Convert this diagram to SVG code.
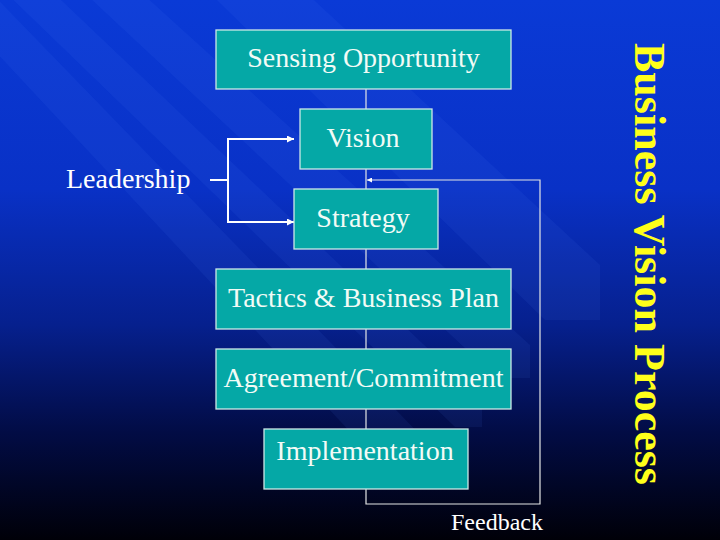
<svg xmlns="http://www.w3.org/2000/svg" width="720" height="540" viewBox="0 0 720 540">
<defs>
<linearGradient id="bg" x1="0" y1="0" x2="0" y2="1">
<stop offset="0" stop-color="#0a3ad6"/>
<stop offset="0.35" stop-color="#0931c6"/>
<stop offset="0.6" stop-color="#06208e"/>
<stop offset="0.8" stop-color="#020c45"/>
<stop offset="1" stop-color="#000008"/>
</linearGradient>
<marker id="arr" viewBox="0 0 10 10" refX="10" refY="5" markerWidth="8" markerHeight="7" markerUnits="userSpaceOnUse" orient="auto">
<path d="M0,0 L10,5 L0,10 z" fill="#ffffff"/>
</marker>
<marker id="arrs" viewBox="0 0 10 10" refX="10" refY="5" markerWidth="5" markerHeight="5" markerUnits="userSpaceOnUse" orient="auto">
<path d="M0,0 L10,5 L0,10 z" fill="#ffffff"/>
</marker>
</defs>
<style>
.box{fill:#05a8a6;stroke:#cde9e6;stroke-width:1.3}
.bt{font-family:"Liberation Serif","Times New Roman",serif;font-size:28px;fill:#f2fbf6;text-anchor:middle}
.lbl{font-family:"Liberation Serif","Times New Roman",serif;fill:#ffffff}
.ln{fill:none;stroke:#e4e6e6;stroke-width:1.2}
.wl{fill:none;stroke:#ffffff;stroke-width:2}
.band{fill:#5a88ff;opacity:0.08}
</style>
<rect x="0" y="0" width="720" height="540" fill="url(#bg)"/>
<g id="background-bands">
<polygon class="band" points="-10,-300 600,265 600,320 545,320 -60,-270"/>
<polygon class="band" points="-60,-190 530,345 530,378 497,378 -90,-170"/>
<polygon class="band" points="-60,-115 482,400 482,427 455,427 -90,-100"/>
<polygon class="band" points="-60,-60 430,445 430,480 395,480 -90,-40"/>
</g>
<g id="connectors">
<line class="ln" x1="366" y1="89" x2="366" y2="109"/>
<line class="ln" x1="366" y1="169" x2="366" y2="189"/>
<line class="ln" x1="366" y1="249" x2="366" y2="269"/>
<line class="ln" x1="366" y1="329" x2="366" y2="349"/>
<line class="ln" x1="366" y1="409" x2="366" y2="429"/>
<polyline class="ln" points="366,489 366,504 540,504 540,180 367,180" marker-end="url(#arrs)"/>
<line class="wl" x1="210" y1="180" x2="228" y2="180"/>
<polyline class="wl" points="294,139 228,139 228,222 294,222" fill="none"/>
<line class="wl" x1="286" y1="139" x2="294" y2="139" marker-end="url(#arr)"/>
<line class="wl" x1="286" y1="222" x2="294" y2="222" marker-end="url(#arr)"/>
</g>
<g id="sensing">
<rect class="box" x="216" y="30" width="295" height="59"/>
<text class="bt" x="363.5" y="67">Sensing Opportunity</text>
</g>
<g id="vision">
<rect class="box" x="300" y="109" width="132" height="60"/>
<text class="bt" x="363" y="147">Vision</text>
</g>
<g id="strategy">
<rect class="box" x="294" y="189" width="144" height="60"/>
<text class="bt" x="363" y="227">Strategy</text>
</g>
<g id="tactics">
<rect class="box" x="216" y="269" width="295" height="60"/>
<text class="bt" x="363.5" y="307">Tactics &amp; Business Plan</text>
</g>
<g id="agreement">
<rect class="box" x="216" y="349" width="295" height="60"/>
<text class="bt" x="363.5" y="387">Agreement/Commitment</text>
</g>
<g id="implementation">
<rect class="box" x="264" y="429" width="204" height="60"/>
<text class="bt" x="365" y="460">Implementation</text>
</g>
<g id="leadership">
<text class="lbl" x="66" y="188" font-size="28">Leadership</text>
</g>
<g id="feedback">
<text class="lbl" x="451" y="530" font-size="24">Feedback</text>
</g>
<g id="title">
<text transform="translate(635,43) rotate(90)" x="0" y="0" font-family="'Liberation Serif','Times New Roman',serif" font-weight="bold" font-size="44" fill="#ffff1a" textLength="442" lengthAdjust="spacingAndGlyphs">Business Vision Process</text>
</g>
</svg>
